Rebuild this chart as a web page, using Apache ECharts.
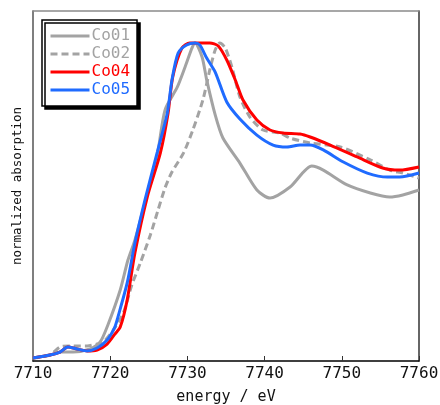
<!DOCTYPE html>
<html>
<head>
<meta charset="utf-8">
<script src="https://cdn.jsdelivr.net/npm/echarts@6/dist/echarts.min.js"></script>
<style>html,body{margin:0;padding:0;background:#fff}#c{width:440px;height:405px}</style>
</head>
<body>
<div id="c"></div>
<script>
// energy (eV) and normalized absorption (arbitrary units)
var seriesNames = ['Co01', 'Co02', 'Co04', 'Co05'];
var xTicks = [7710, 7720, 7730, 7740, 7750, 7760];

var co01 = [[7710.0,0.017],[7712.2,0.034],[7713.5,0.051],[7715.2,0.051],[7717.4,0.069],[7718.7,0.109],[7719.7,0.206],[7721.3,0.406],[7722.3,0.577],[7723.2,0.691],[7724.5,0.903],[7726.1,1.177],[7727.1,1.434],[7728.7,1.566],[7729.7,1.680],[7730.6,1.789],[7731.0,1.817],[7731.9,1.737],[7732.5,1.606],[7733.6,1.406],[7734.6,1.274],[7736.8,1.131],[7739.0,0.977],[7740.7,0.931],[7743.3,0.994],[7746.1,1.114],[7747.6,1.091],[7750.7,1.006],[7753.7,0.960],[7756.2,0.937],[7757.9,0.949],[7760.0,0.977]];

var co02 = [[7710.0,0.017],[7712.2,0.034],[7713.5,0.080],[7714.8,0.086],[7717.0,0.086],[7718.3,0.097],[7719.1,0.109],[7720.4,0.177],[7721.7,0.274],[7722.8,0.434],[7723.9,0.560],[7725.2,0.720],[7726.2,0.863],[7727.1,0.989],[7728.0,1.080],[7729.5,1.189],[7730.7,1.320],[7732.0,1.491],[7732.9,1.663],[7733.6,1.777],[7734.2,1.817],[7734.9,1.789],[7735.8,1.674],[7736.8,1.509],[7738.1,1.394],[7739.8,1.320],[7742.0,1.303],[7743.3,1.274],[7745.9,1.246],[7749.8,1.223],[7753.7,1.149],[7756.2,1.091],[7757.9,1.074],[7760.0,1.046]];

var co04 = [[7710.0,0.017],[7712.2,0.034],[7713.5,0.051],[7714.5,0.080],[7715.7,0.069],[7717.0,0.057],[7718.3,0.063],[7719.6,0.097],[7720.6,0.154],[7721.3,0.194],[7722.2,0.349],[7723.2,0.617],[7724.8,0.937],[7726.5,1.189],[7727.5,1.417],[7728.1,1.623],[7729.3,1.789],[7730.3,1.817],[7732.9,1.817],[7734.0,1.800],[7735.1,1.720],[7736.2,1.606],[7737.2,1.491],[7739.0,1.377],[7740.7,1.320],[7742.4,1.303],[7744.6,1.297],[7745.9,1.280],[7748.5,1.234],[7752.0,1.166],[7755.3,1.103],[7757.5,1.091],[7760.0,1.109]];

var co05 = [[7710.0,0.017],[7712.2,0.034],[7713.5,0.051],[7714.5,0.080],[7715.7,0.069],[7717.0,0.057],[7718.3,0.074],[7719.6,0.120],[7720.6,0.194],[7721.0,0.251],[7722.2,0.446],[7723.2,0.674],[7724.5,0.920],[7726.1,1.194],[7727.4,1.417],[7728.0,1.606],[7728.8,1.760],[7729.9,1.806],[7731.0,1.817],[7731.6,1.806],[7732.5,1.731],[7733.6,1.651],[7735.1,1.480],[7736.8,1.383],[7739.0,1.291],[7741.1,1.234],[7742.9,1.223],[7744.6,1.234],[7745.9,1.234],[7747.6,1.206],[7750.2,1.137],[7753.3,1.074],[7755.9,1.051],[7757.5,1.051],[7760.0,1.074]];

var seriesData = [co01, co02, co04, co05];
var colors = ['#a3a3a3', '#a3a3a3', '#ff0000', '#1f6bff'];
var lineTypes = ['solid', [7, 4], 'solid', 'solid'];

var chart = echarts.init(document.getElementById('c'), null, {renderer: 'canvas'});
var monoFont = '"DejaVu Sans Mono", monospace';

chart.setOption({
  animation: false,
  backgroundColor: '#ffffff',
  grid: {left: 33, top: 11, right: 21, bottom: 44, containLabel: false, outerBoundsMode: 'none'},
  legend: {
    orient: 'vertical',
    left: 42, top: 20,
    padding: [7, 7, 7, 7],
    itemWidth: 39, itemHeight: 14, itemGap: 0,
    backgroundColor: '#ffffff',
    borderColor: '#000000', borderWidth: 1.5, borderRadius: 0,
    shadowColor: '#000000', shadowBlur: 0, shadowOffsetX: 3, shadowOffsetY: 3,
    itemStyle: {opacity: 0},
    lineStyle: {width: 3},
    textStyle: {fontFamily: monoFont, fontSize: 16, lineHeight: 18, padding: [0, 0, 0, -3]},
    data: seriesNames.map(function (n, i) { return {name: n, textStyle: {color: colors[i]}}; })
  },
  xAxis: [{
    type: 'value', min: xTicks[0], max: xTicks[xTicks.length - 1], interval: 10,
    position: 'bottom',
    name: 'energy / eV', nameLocation: 'middle', nameGap: 29,
    nameTextStyle: {fontFamily: monoFont, fontSize: 15, color: '#111'},
    axisLine: {show: true, lineStyle: {color: '#000', width: 1.5}},
    axisTick: {show: true, inside: true, length: 5, lineStyle: {color: '#333'}},
    axisLabel: {margin: 5, fontFamily: monoFont, fontSize: 16, color: '#111',
      formatter: function (v) { return xTicks.indexOf(v) >= 0 ? String(v) : ''; }},
    splitLine: {show: false}
  }, {
    type: 'value', min: xTicks[0], max: xTicks[xTicks.length - 1], position: 'top',
    axisLine: {show: true, onZero: false, lineStyle: {color: '#8a8a8a', width: 1.5}},
    axisTick: {show: false}, axisLabel: {show: false}, splitLine: {show: false}
  }],
  yAxis: [{
    type: 'value', min: 0, max: 2, position: 'left',
    name: 'normalized absorption', nameLocation: 'middle', nameGap: 9,
    nameTextStyle: {fontFamily: monoFont, fontSize: 12.5, color: '#111'},
    axisLine: {show: true, onZero: false, lineStyle: {color: '#555', width: 1.5}},
    axisTick: {show: false}, axisLabel: {show: false}, splitLine: {show: false}
  }, {
    type: 'value', min: 0, max: 2, position: 'right',
    axisLine: {show: true, onZero: false, lineStyle: {color: '#333', width: 1.5}},
    axisTick: {show: false}, axisLabel: {show: false}, splitLine: {show: false}
  }],
  series: seriesNames.map(function (n, i) {
    return {
      name: n, type: 'line', data: seriesData[i],
      xAxisIndex: 0, yAxisIndex: 0,
      showSymbol: false, symbol: 'none',
      smooth: 0.25,
      color: colors[i],
      lineStyle: {color: colors[i], width: 3, type: lineTypes[i]},
      clip: true
    };
  })
});
</script>
</body>
</html>
